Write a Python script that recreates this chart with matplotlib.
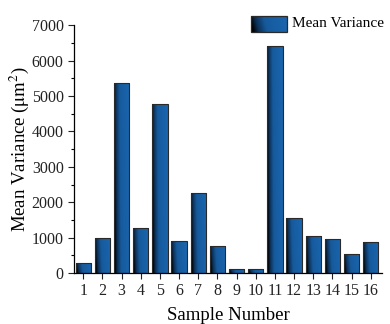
import matplotlib
matplotlib.use("Agg")
import matplotlib.pyplot as plt
import numpy as np
from matplotlib.colors import LinearSegmentedColormap
from matplotlib.patches import Rectangle

plt.rcParams['font.family'] = ['Liberation Serif', 'DejaVu Serif']
plt.rcParams['mathtext.fontset'] = 'stix'

samples = list(range(1, 17))
mean_variance = [290, 990, 5370, 1270, 4780, 920, 2270, 770,
                 130, 120, 6420, 1560, 1060, 960, 530, 890]

cmap = LinearSegmentedColormap.from_list(
    "bar", [(0.0, "#000000"), (0.15, "#0c2f55"), (0.4, "#165a9c"), (1.0, "#1a65ae")])

fig = plt.figure(figsize=(3.9, 3.24), dpi=100)
ax = fig.add_axes([0.19, 0.157, 0.79, 0.765])

bars = ax.bar(samples, mean_variance, width=0.8, color="none",
              edgecolor="#2a2a2a", linewidth=0.8, zorder=3)

# horizontal gradient, slightly tilted
gx = np.linspace(0, 1, 64)
gy = np.linspace(0, 1, 64)
X, Y = np.meshgrid(gx, gy)
grad = np.clip(X + 0.12 * (Y - 0.5), 0, 1)

for b in bars:
    x0, y0 = b.get_x(), b.get_y()
    w, h = b.get_width(), b.get_height()
    im = ax.imshow(grad, cmap=cmap, extent=[x0, x0 + w, y0, y0 + h],
                   aspect="auto", origin="lower", zorder=2, interpolation="bilinear")
    im.set_clip_path(b)

ax.set_xlim(0.52, 16.6)
ax.set_ylim(0, 7000)
ax.set_xticks(samples)
ax.set_yticks(range(0, 7001, 1000))
ax.set_yticks(range(500, 7000, 1000), minor=True)
ax.tick_params(axis="both", which="major", labelsize=11.5, direction="out",
               length=4, width=0.8, colors="#222222")
ax.tick_params(axis="y", which="minor", length=2.5, width=0.8)
ax.tick_params(axis="x", pad=3)
for s in ["top", "right"]:
    ax.spines[s].set_visible(False)
for s in ["left", "bottom"]:
    ax.spines[s].set_linewidth(0.9)

ax.set_ylabel(r"Mean Variance ($\mathrm{\mu m^2}$)", fontsize=13.5)
ax.yaxis.set_label_coords(-0.14, 0.5)
ax.set_xlabel("Sample Number", fontsize=13.5)
ax.xaxis.set_label_coords(0.5, -0.135)

# legend with gradient patch
lax = fig.add_axes([0.644, 0.90, 0.092, 0.052])
lax.imshow(grad, cmap=cmap, extent=[0, 1, 0, 1], aspect="auto", origin="lower",
           interpolation="bilinear")
lax.add_patch(Rectangle((0, 0), 1, 1, fill=False, edgecolor="#2a2a2a", linewidth=0.9,
                        transform=lax.transAxes, clip_on=False))
lax.set_axis_off()
fig.text(0.748, 0.926, "Mean Variance", fontsize=11, va="center", ha="left")

fig.savefig("out.png", dpi=100)
